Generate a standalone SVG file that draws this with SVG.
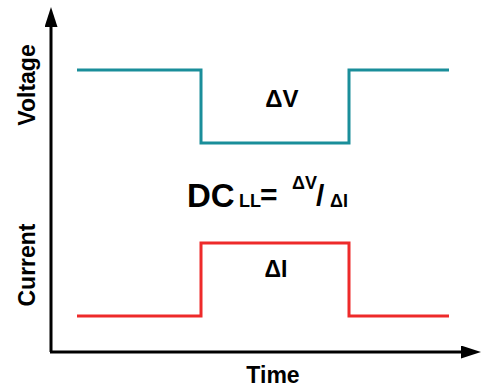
<svg xmlns="http://www.w3.org/2000/svg" width="482" height="391" viewBox="0 0 482 391">
<style>
text{font-family:"Liberation Sans",Arial,sans-serif;font-weight:bold;fill:#000}
.ax{stroke:#000;stroke-width:3;fill:none}
.v{stroke:#1a8e9a;stroke-width:3;fill:none}
.i{stroke:#ee2a2a;stroke-width:3;fill:none}
</style>
<defs>
<marker id="ah" markerWidth="20" markerHeight="13" refX="0" refY="6.5" orient="auto" markerUnits="userSpaceOnUse">
<path d="M0,0 L20,6.5 L0,13 Z" fill="#000"/>
</marker>
</defs>
<g id="connectors">
<path class="ax" d="M51,352 V27" marker-end="url(#ah)"/>
<path class="ax" d="M50,352 H461" marker-end="url(#ah)"/>
</g>
<g id="voltage"><path class="v" d="M77,70 H201 V143 H349 V70 H449"/></g>
<g id="current"><path class="i" d="M77,316 H201 V243 H349 V316 H449"/></g>
<g id="labels">
<text transform="translate(35,85) rotate(-90)" text-anchor="middle" font-size="23">Voltage</text>
<text transform="translate(35,265) rotate(-90)" text-anchor="middle" font-size="23">Current</text>
<text x="273" y="383" text-anchor="middle" font-size="23">Time</text>
<text x="282" y="107" text-anchor="middle" font-size="24">ΔV</text>
<text x="276" y="277" text-anchor="middle" font-size="23">ΔI</text>
<text x="187" y="207" font-size="33">DC</text>
<text x="239" y="207" font-size="18">LL</text>
<text x="260" y="205" font-size="30">=</text>
<text x="292" y="189" font-size="18">ΔV</text>
<text x="316" y="206" font-size="30">/</text>
<text x="330" y="207" font-size="18">ΔI</text>
</g>
</svg>
